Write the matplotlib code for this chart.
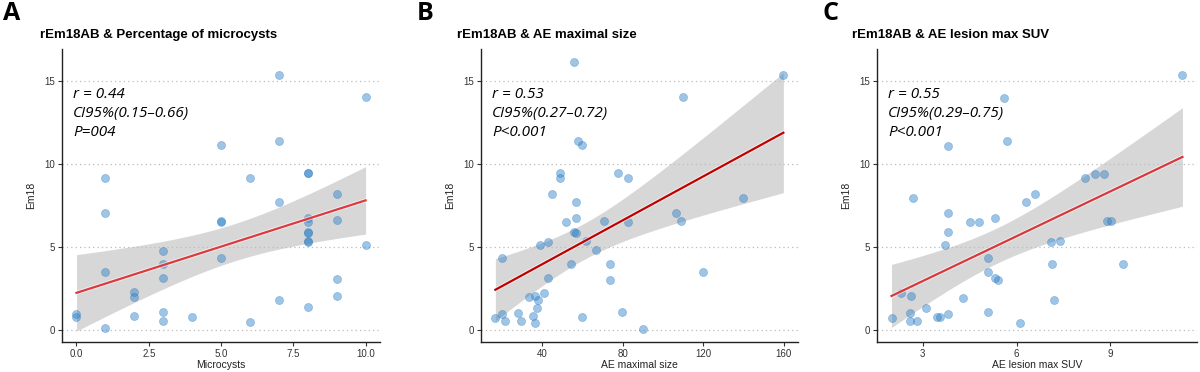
import numpy as np
import matplotlib
matplotlib.use('Agg')
import matplotlib.pyplot as plt
import matplotlib.patheffects as pe

plt.rcParams['font.family'] = ['Liberation Sans', 'DejaVu Sans']

# Panel A: microcysts vs Em18
micro_x = [0, 0, 1, 1, 1, 1, 2, 2, 2, 3, 3, 3, 3, 3, 4, 5, 5, 5, 5, 6, 6,
           7, 7, 7, 7, 8, 8, 8, 8, 8, 8, 8, 8, 8, 9, 9, 9, 9, 10, 10]
micro_y = [1.01, 0.77, 9.19, 7.07, 3.52, 0.12, 2.28, 1.98, 0.85, 4.79, 4.02, 3.15, 1.09, 0.55,
           0.81, 11.15, 6.59, 6.55, 4.36, 9.19, 0.47, 15.39, 11.42, 7.74, 1.84,
           9.48, 9.46, 6.79, 6.53, 5.90, 5.88, 5.37, 5.35, 1.38, 8.21, 6.63, 3.07, 2.06, 14.04, 5.15]

# Panel B: AE maximal size vs Em18
size_x = [55.6, 159.8, 109.8, 57.8, 59.8, 48.9, 48.9, 77.7, 82.8, 44.8, 139.6, 56.8, 106.7,
          56.8, 70.8, 108.8, 51.7, 82.8, 55.6, 57.0, 61.9, 42.8, 38.8, 66.8, 19.9, 54.6,
          73.7, 73.7, 119.7, 42.8, 40.8, 33.7, 36.7, 37.9, 37.7, 79.7, 27.8, 19.9, 16.8,
          59.8, 35.7, 21.7, 29.6, 36.7, 89.9]
size_y = [16.2, 15.4, 14.04, 11.4, 11.14, 9.47, 9.19, 9.47, 9.19, 8.21, 7.99, 7.73, 7.07,
          6.75, 6.61, 6.61, 6.53, 6.51, 5.93, 5.85, 5.37, 5.31, 5.13, 4.81, 4.35, 3.99,
          4.01, 3.06, 3.50, 3.16, 2.26, 1.98, 2.06, 1.84, 1.36, 1.10, 1.02, 1.00, 0.76,
          0.80, 0.84, 0.54, 0.56, 0.46, 0.10]

# Panel C: AE lesion max SUV vs Em18
suv_x = [11.31, 5.60, 5.71, 3.80, 8.20, 8.51, 8.80, 6.60, 2.70, 6.30, 3.82, 5.30, 4.50, 4.80,
         8.90, 9.01, 3.80, 3.70, 7.10, 7.40, 5.10, 7.15, 9.41, 5.10, 5.30, 5.41, 2.31, 2.61,
         4.30, 7.20, 3.10, 2.60, 3.80, 5.08, 2.00, 3.47, 3.56, 2.60, 2.81, 6.10]
suv_y = [15.40, 14.03, 11.39, 11.13, 9.17, 9.44, 9.44, 8.19, 8.00, 7.72, 7.06, 6.75, 6.53, 6.53,
         6.61, 6.61, 5.91, 5.14, 5.30, 5.36, 4.37, 4.01, 3.97, 3.49, 3.15, 3.04, 2.24, 2.04,
         1.96, 1.83, 1.35, 1.03, 0.99, 1.09, 0.73, 0.77, 0.81, 0.54, 0.54, 0.44]

letters = ['A', 'B', 'C']
titles = ['rEm18AB & Percentage of microcysts', 'rEm18AB & AE maximal size',
          'rEm18AB & AE lesion max SUV']
xlabels = ['Microcysts', 'AE maximal size', 'AE lesion max SUV']
stats = [['r = 0.44', 'CI95%(0.15\u20130.66)', 'P=004'],
         ['r = 0.53', 'CI95%(0.27\u20130.72)', 'P<0.001'],
         ['r = 0.55', 'CI95%(0.29\u20130.75)', 'P<0.001']]
xticks = [[0, 2.5, 5, 7.5, 10], [40, 80, 120, 160], [3, 6, 9]]
xticklabels = [['0.0', '2.5', '5.0', '7.5', '10.0'], ['40', '80', '120', '160'], ['3', '6', '9']]
line_colors = ['#dc3a3f', '#c00000', '#d8383c']


def draw_panel(ax, x, y, color):
    x = np.array(x)
    y = np.array(y)
    n = len(x)
    slope, intercept = np.polyfit(x, y, 1)
    xs = np.linspace(x.min(), x.max(), 80)
    fit = slope * xs + intercept
    resid = y - (slope * x + intercept)
    s = np.sqrt(np.sum(resid ** 2) / (n - 2))
    se = s * np.sqrt(1 / n + (xs - x.mean()) ** 2 / np.sum((x - x.mean()) ** 2))
    t = 2.02
    ax.fill_between(xs, fit - t * se, fit + t * se, color='#bdbdbd', alpha=0.6, lw=0, zorder=2)
    ax.scatter(x, y, s=34, color='#2a7fc9', alpha=0.45, edgecolors='#1f6fb5', linewidths=0.4,
               zorder=3)
    ax.plot(xs, fit, color=color, lw=1.6, zorder=4,
            path_effects=[pe.Stroke(linewidth=3.0, foreground='white', alpha=0.6), pe.Normal()])
    pad = 0.05 * (x.max() - x.min())
    ax.set_xlim(x.min() - pad, x.max() + pad)


fig = plt.figure(figsize=(12, 3.72), dpi=100)
lefts = [0.0517, 0.4008, 0.7308]
widths = [0.265, 0.264, 0.2667]
datasets = [(micro_x, micro_y), (size_x, size_y), (suv_x, suv_y)]
title_x = [40, 457, 852]
letter_x = [3, 417, 822]

for i in range(3):
    ax = fig.add_axes([lefts[i], 0.081, widths[i], 0.787])
    draw_panel(ax, datasets[i][0], datasets[i][1], line_colors[i])
    ax.set_ylim(-0.7, 16.95)
    ax.set_yticks([0, 5, 10, 15])
    for yv in [0, 5, 10, 15]:
        ax.axhline(yv, color='#bbbbbb', lw=0.9, ls=(0, (1, 2.5)), zorder=1)
    ax.set_xticks(xticks[i])
    ax.set_xticklabels(xticklabels[i])
    ax.tick_params(labelsize=7, colors='#333333', length=3, width=0.8, pad=2)
    for sp in ['top', 'right']:
        ax.spines[sp].set_visible(False)
    for sp in ['left', 'bottom']:
        ax.spines[sp].set_linewidth(1.0)
        ax.spines[sp].set_color('#222222')
    ax.set_xlabel(xlabels[i], fontsize=7.5, color='#222222', labelpad=1)
    ax.set_ylabel('Em18', fontsize=7.5, color='#222222', labelpad=6)
    for j, line in enumerate(stats[i]):
        ax.text(0.035, 0.845 - j * 0.065, line, transform=ax.transAxes, fontsize=11,
                style='italic', family=['Open Sans', 'DejaVu Sans'], va='center', ha='left')
    fig.text(title_x[i] / 1200, 1 - 35 / 372, titles[i], fontsize=9.5, weight='bold',
             va='center', ha='left')
    fig.text(letter_x[i] / 1200, 1 - 13 / 372, letters[i], fontsize=18, weight='bold',
             family=['Open Sans', 'DejaVu Sans'], va='center', ha='left')

fig.savefig('out.png', dpi=100)
